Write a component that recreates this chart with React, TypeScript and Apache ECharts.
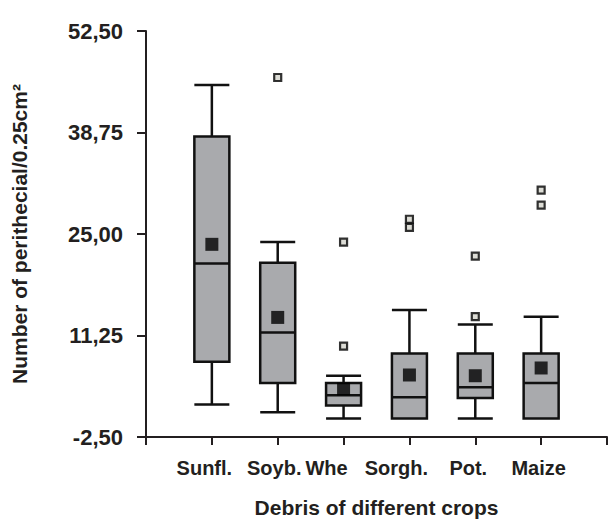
import React, { useEffect, useRef } from "react";
import * as echarts from "echarts";

const categories = ["Sunfl.", "Soyb.", "Whe", "Sorgh.", "Pot.", "Maize"];
// [min, Q1, median, Q3, max]
const boxStats = [
  [1.9, 7.7, 21.0, 38.2, 45.2],
  [0.85, 4.8, 11.65, 21.1, 23.9],
  [0, 1.76, 3.15, 4.8, 5.8],
  [0, 0, 2.9, 8.8, 14.7],
  [0, 2.8, 4.25, 8.8, 12.75],
  [0, 0, 4.8, 8.8, 13.8],
];
const means = [23.6, 13.7, 4.0, 5.9, 5.8, 6.85];
const outliers = [[], [46.2], [23.9, 9.8], [27.0, 25.9], [22.0, 13.8], [30.95, 28.9]];
const yTicks = { min: -2.5, max: 52.5, interval: 13.75 };
const labelShift = [15, 7, 34, 26, 14, 5];

const FONT = "'Liberation Sans', Arial, sans-serif";
const INK = "#231f20";

export default function App() {
  const ref = useRef<HTMLDivElement>(null);
  useEffect(() => {
    if (!ref.current) return;
    const chart = echarts.init(ref.current, null, { renderer: "svg" });
    const rich: any = {};
    labelShift.forEach((p, i) => {
      rich["c" + i] = {
        fontSize: 20,
        fontWeight: "bold",
        fontFamily: FONT,
        color: INK,
        padding: [0, p, 0, 0],
      };
    });
    const outlierData: number[][] = [];
    outliers.forEach((arr, i) => arr.forEach((v) => outlierData.push([i, v])));
    chart.setOption({
      animation: false,
      grid: { left: 146, right: 4, top: 31, bottom: 87 },
      xAxis: {
        type: "value",
        min: -1,
        max: categories.length,
        interval: 1,
        splitLine: { show: false },
        axisLine: { show: true, onZero: false, lineStyle: { color: INK, width: 2 } },
        axisTick: { show: true, length: 8, lineStyle: { color: INK, width: 2 } },
        axisLabel: {
          margin: 21,
          formatter: (v: number) => {
            const i = Math.round(v);
            if (i < 0 || i >= categories.length) return "";
            return `{c${i}|${categories[i]}}`;
          },
          rich,
          fontSize: 20,
          fontWeight: "bold",
          fontFamily: FONT,
          color: INK,
        },
        name: "Debris of different crops",
        nameLocation: "middle",
        nameGap: 60,
        nameTextStyle: { fontSize: 21, fontWeight: "bold", fontFamily: FONT, color: INK },
      },
      yAxis: {
        type: "value",
        min: yTicks.min,
        max: yTicks.max,
        interval: yTicks.interval,
        splitLine: { show: false },
        axisLine: { show: true, onZero: false, lineStyle: { color: INK, width: 2 } },
        axisTick: { show: true, length: 9, lineStyle: { color: INK, width: 2 } },
        axisLabel: {
          margin: 23,
          formatter: (v: number) => v.toFixed(2).replace(".", ","),
          fontSize: 22,
          fontWeight: "bold",
          fontFamily: FONT,
          color: INK,
        },
        name: "Number of perithecial/0.25cm²",
        nameLocation: "middle",
        nameGap: 116,
        nameTextStyle: { fontSize: 21, fontWeight: "bold", fontFamily: FONT, color: INK },
      },
      series: [
        {
          type: "boxplot",
          layout: "horizontal",
          boxWidth: [35, 35],
          data: boxStats.map((s, i) => [i, ...s]),
          itemStyle: { color: "#a9aaad", borderColor: "#111111", borderWidth: 2.5 },
          z: 2,
        },
        {
          type: "scatter",
          data: means.map((m, i) => [i, m]),
          symbol: "rect",
          symbolSize: 13,
          itemStyle: { color: "#000000" },
          z: 4,
        },
        {
          type: "scatter",
          data: outlierData,
          symbol: "rect",
          symbolSize: 7,
          itemStyle: { color: "#d4d4cc", borderColor: "#000000", borderWidth: 2.2 },
          z: 3,
        },
      ],
    });
    return () => chart.dispose();
  }, []);
  return (
    <div
      ref={ref}
      style={{ position: "fixed", left: 0, top: 0, width: 611, height: 524, background: "#fff" }}
    />
  );
}
